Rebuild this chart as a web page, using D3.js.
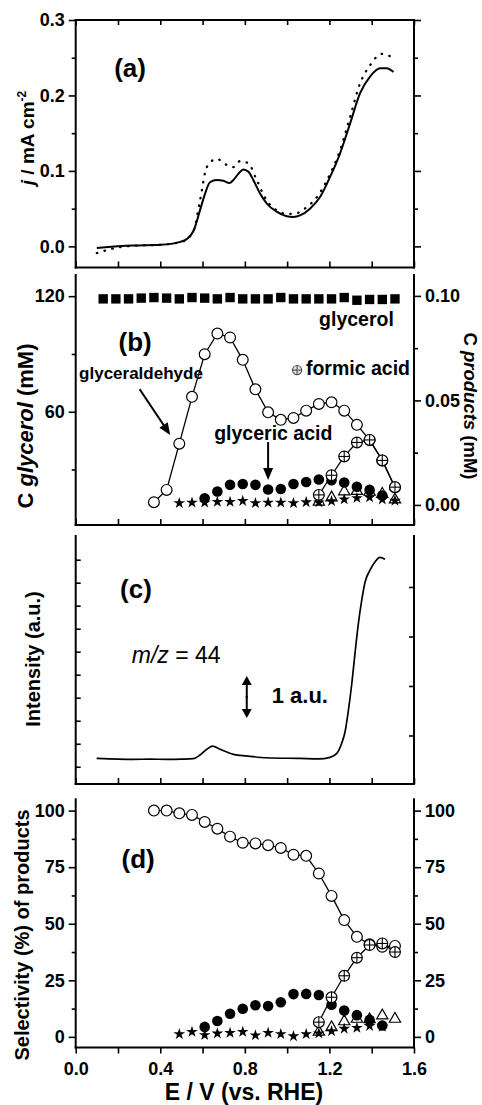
<!DOCTYPE html>
<html><head><meta charset="utf-8">
<script src="https://cdn.jsdelivr.net/npm/d3@7"></script>
<style>body{margin:0;background:#fff}svg{display:block}</style>
</head><body>
<svg id="chart" width="482" height="1105"></svg>
<script>
// ---------- DATA ----------
// (a) current density, mA cm-2
const jSolidE = [0.10,0.27,0.40,0.495,0.527,0.558,0.588,0.612,0.635,0.667,0.698,0.727,0.746,0.769,0.793,0.817,0.840,0.872,0.903,0.950,0.998,1.029,1.061,1.108,1.155,1.203,1.250,1.298,1.345,1.392,1.440,1.471,1.503];
const jSolid  = [-0.002,0.001,0.002,0.006,0.010,0.021,0.048,0.070,0.085,0.088,0.087,0.084,0.088,0.096,0.102,0.099,0.088,0.070,0.057,0.046,0.040,0.039,0.041,0.050,0.065,0.092,0.123,0.163,0.203,0.225,0.236,0.236,0.231];
const jDotE = [0.10,0.19,0.29,0.40,0.51,0.558,0.588,0.620,0.667,0.714,0.746,0.777,0.817,0.856,0.903,0.950,0.998,1.045,1.092,1.140,1.203,1.250,1.298,1.345,1.392,1.447,1.495];
const jDot  = [-0.009,-0.002,0.001,0.002,0.007,0.021,0.061,0.105,0.116,0.108,0.105,0.113,0.110,0.088,0.061,0.048,0.043,0.044,0.052,0.065,0.096,0.127,0.172,0.216,0.240,0.255,0.251];

// (b) concentrations
const glycerolE = [0.13,0.19,0.25,0.31,0.37,0.43,0.49,0.55,0.61,0.67,0.73,0.79,0.85,0.91,0.97,1.03,1.09,1.15,1.21,1.27,1.33,1.39,1.45,1.51];
const glycerolC = [118.6,118.6,118.6,119.0,119.3,119.0,118.6,119.3,119.0,118.6,119.3,118.6,118.6,118.6,119.3,118.6,118.6,118.6,118.6,119.3,117.9,118.3,118.3,118.6];
const aldE = [0.37,0.43,0.49,0.55,0.61,0.67,0.73,0.79,0.85,0.91,0.97,1.03,1.09,1.15,1.21,1.27,1.33,1.39,1.45,1.51];
const aldC = [0.0013,0.0072,0.0293,0.0517,0.0721,0.0820,0.0801,0.0694,0.0553,0.0443,0.0407,0.0416,0.0451,0.0483,0.0491,0.0451,0.0383,0.0311,0.0213,0.0085];
const gaE = [0.61,0.67,0.73,0.79,0.85,0.91,0.97,1.03,1.09,1.15,1.21,1.27,1.33,1.39,1.45];
const gaC = [0.0032,0.0064,0.0096,0.0100,0.0096,0.0074,0.0076,0.0100,0.0110,0.0122,0.0118,0.0107,0.0087,0.0072,0.0045];
const starE = [0.49,0.55,0.61,0.67,0.73,0.79,0.85,0.91,0.97,1.03,1.09,1.15,1.21,1.27,1.33,1.39,1.45,1.51];
const starC = [0.0009,0.0011,0.0011,0.0015,0.0015,0.0019,0.0009,0.0011,0.0011,0.0009,0.0013,0.0012,0.0018,0.0027,0.0033,0.0036,0.0026,0.0020];
const triE = [1.15,1.21,1.27,1.33,1.39,1.45,1.51];
const triC = [0.0015,0.0035,0.0064,0.0066,0.0062,0.0052,0.0025];
const formE = [1.15,1.21,1.27,1.33,1.39,1.45,1.51];
const formC = [0.0048,0.0142,0.0232,0.0299,0.0311,0.0213,0.0085];

// (c) m/z = 44 intensity
const msE = [0.099,0.20,0.273,0.35,0.430,0.50,0.556,0.588,0.620,0.648,0.683,0.746,0.809,0.903,1.061,1.15,1.203,1.235,1.258,1.274,1.290,1.306,1.321,1.337,1.353,1.369,1.392,1.416,1.439,1.463];
const msI = [0.36,0.33,0.32,0.33,0.32,0.33,0.35,0.51,0.76,0.90,0.76,0.54,0.47,0.39,0.36,0.34,0.41,0.58,1.02,1.52,2.47,3.63,4.93,6.23,7.25,8.04,8.55,8.91,9.10,9.02];

// (d) selectivity, %
const selAld  = [100,100,98.8,98.1,95,92,88.5,85.8,85.5,84.7,83.5,80.5,80,72.2,62.3,51.6,44.2,40.9,39.8,40.2];
const selGa   = [4.4,7.0,10.2,12.4,14.0,13.6,15.3,18.9,19.0,18.5,14.2,11.6,9.6,7.5,5.0];
const selStarE = [0.49,0.55,0.61,0.67,0.73,0.79,0.85,0.91,0.97,1.03,1.09,1.15,1.21,1.27,1.33,1.39,1.45];
const selStar = [1.2,2.2,0.8,1.5,1.8,2.2,0.7,1.8,1.2,0.3,1.2,1.5,2.5,3.6,4.0,4.8,4.5];
const selTri  = [2.2,4.2,6.8,7.9,7.7,9.4,7.9];
const selForm = [6.5,17.5,27,35,40.6,41.3,37.5];

// ticks
const xTicks = [0,0.2,0.4,0.6,0.8,1.0,1.2,1.4,1.6];
const xTickLabels = [0,0.4,0.8,1.2,1.6];
const aMajor = [0,0.1,0.2,0.3], aMinor = [0.05,0.15,0.25];
const bLeftMajor = [60,120], bLeftMinor = [30,90];
const bRightMajor = [0,0.05,0.10], bRightMinor = [0.025,0.075];
const cLeftTicks = [0,1,2,3,4,5,6,7,8,9], cRightTicks = [0,1,2,3];
const dMajor = [0,25,50,75,100], dMinor = [12.5,37.5,62.5,87.5];

// ---------- LAYOUT ----------
const F = '"Liberation Sans", Arial, Helvetica, sans-serif';
const svg = d3.select('#chart');
const x = d3.scaleLinear().domain([0,1.6]).range([75.7,414]);
const P = {a:[20,267.5], b:[275,525], c:[536,784], d:[799.3,1047.5]};
const yA  = d3.scaleLinear().domain([-0.028,0.3]).range([P.a[1],P.a[0]]);
const yBL = d3.scaleLinear().domain([1.2,131]).range([P.b[1],P.b[0]]);
const yBR = d3.scaleLinear().domain([-0.0096,0.110]).range([P.b[1],P.b[0]]);
const yC  = d3.scaleLinear().domain([-0.75,10.03]).range([P.c[1],P.c[0]]);
const yCR = d3.scaleLinear().domain([-0.98,4.03]).range([P.c[1],P.c[0]]);
const yD  = d3.scaleLinear().domain([-4.7,105]).range([P.d[1],P.d[0]]);
const X0 = x.range()[0], X1 = x.range()[1];

function ax(orient, scale, pos, vals, size, fmt, pad, fs){
  const gen = {left:d3.axisLeft,right:d3.axisRight,top:d3.axisTop,bottom:d3.axisBottom}[orient](scale)
    .tickValues(vals).tickSizeInner(size).tickSizeOuter(0).tickPadding(pad||4)
    .tickFormat(fmt || (()=>''));
  const tr = (orient==='left'||orient==='right') ? `translate(${pos},0)` : `translate(0,${pos})`;
  const g = svg.append('g').attr('transform',tr).call(gen);
  g.select('.domain').remove();
  g.selectAll('line').attr('stroke','#000').attr('stroke-width',1.6);
  g.selectAll('text').attr('font-family',F).attr('font-size',fs||18).attr('font-weight','bold').attr('fill','#000');
  return g;
}
function seg(x1,y1,x2,y2,w){
  svg.append('line').attr('x1',x1).attr('y1',y1).attr('x2',x2).attr('y2',y2)
    .attr('stroke','#000').attr('stroke-width',w||2).attr('stroke-linecap','square');
}
function frame(p, top){
  seg(X0,p[0],X0,p[1]); seg(X1,p[0],X1,p[1]); seg(X0,p[1],X1,p[1]);
  if(top) seg(X0,p[0],X1,p[0]);
}
function txt(s, px, py, fs, opts){
  opts = opts||{};
  const t = svg.append('text').attr('x',px).attr('y',py).attr('font-family',F)
    .attr('font-size',fs).attr('font-weight',opts.weight||'bold').attr('fill','#000')
    .attr('text-anchor',opts.anchor||'start');
  if(opts.style) t.attr('font-style',opts.style);
  t.text(s);
  return t;
}
function arrow(x1,y1,x2,y2,head){
  const a = Math.atan2(y2-y1,x2-x1), L=head||10, W=5;
  const bx = x2 - L*Math.cos(a), by = y2 - L*Math.sin(a);
  seg(x1,y1,bx,by,2);
  svg.append('path').attr('d',`M${x2},${y2}L${bx - W*Math.sin(a)},${by + W*Math.cos(a)}L${bx + W*Math.sin(a)},${by - W*Math.cos(a)}Z`).attr('fill','#000');
}
const zip = (a,b) => a.map((v,i)=>[v,b[i]]);

// ---------- PANEL A ----------
frame(P.a, true);
ax('left', yA, X0, aMajor, 7, d3.format('.1f'), 4);
ax('left', yA, X0, aMinor, 4);
ax('right', yA, X1, aMajor, 7);
ax('right', yA, X1, aMinor, 4);
ax('top', x, P.a[0], xTicks, -5);
ax('bottom', x, P.a[1], xTicks, -6);
const lineA = d3.line().x(d=>x(d[0])).y(d=>yA(d[1])).curve(d3.curveMonotoneX);
svg.append('path').attr('d',lineA(zip(jDotE,jDot))).attr('fill','none').attr('stroke','#000')
  .attr('stroke-width',2.3).attr('stroke-linecap','round').attr('stroke-dasharray','0.5,7.5');
svg.append('path').attr('d',lineA(zip(jSolidE,jSolid))).attr('fill','none').attr('stroke','#000').attr('stroke-width',2);
txt('(a)', x(0.257), yA(0.2238), 26, {anchor:'middle'});
{
  const t = svg.append('text').attr('transform',`translate(34,138) rotate(-90)`).attr('text-anchor','middle')
    .attr('font-family',F).attr('font-size',19).attr('font-weight','bold').attr('fill','#000');
  t.append('tspan').attr('font-style','italic').text('j');
  t.append('tspan').text(' / mA cm');
  t.append('tspan').attr('font-size',12).attr('dy',-8).text('-2');
}

// ---------- PANEL B ----------
frame(P.b, false);
ax('left', yBL, X0, bLeftMajor, 7, d3.format('d'), 4);
ax('left', yBL, X0, bLeftMinor, 4);
ax('right', yBR, X1, bRightMajor, 7, d3.format('.2f'), 4);
ax('right', yBR, X1, bRightMinor, 4);
ax('bottom', x, P.b[1], xTicks, -6);

const gB = svg.append('g');
// glycerol squares
gB.selectAll('.sq').data(zip(glycerolE,glycerolC)).join('path')
  .attr('d', d3.symbol(d3.symbolSquare, 88)()).attr('transform',d=>`translate(${x(d[0])},${yBL(d[1])})`).attr('fill','#000');
// glyceraldehyde
const lineB = d3.line().x(d=>x(d[0])).y(d=>yBR(d[1]));
gB.append('path').attr('d',lineB(zip(aldE,aldC))).attr('fill','none').attr('stroke','#000').attr('stroke-width',1.3);
gB.selectAll('.ald').data(zip(aldE,aldC)).join('circle').attr('cx',d=>x(d[0])).attr('cy',d=>yBR(d[1]))
  .attr('r',5.4).attr('fill','#fff').attr('stroke','#000').attr('stroke-width',1.2);
// triangles
gB.selectAll('.tri').data(zip(triE,triC)).join('path').attr('d', d3.symbol(d3.symbolTriangle, 55)())
  .attr('transform',d=>`translate(${x(d[0])},${yBR(d[1])})`).attr('fill','#fff').attr('stroke','#000').attr('stroke-width',1.2);
// glyceric acid filled circles
gB.selectAll('.ga').data(zip(gaE,gaC)).join('circle').attr('cx',d=>x(d[0])).attr('cy',d=>yBR(d[1])).attr('r',5.3).attr('fill','#000');
// stars
gB.selectAll('.st').data(zip(starE,starC)).join('path').attr('d', d3.symbol(d3.symbolStar, 42)())
  .attr('transform',d=>`translate(${x(d[0])},${yBR(d[1])})`).attr('fill','#000');
// formic acid crossed circles
function crossed(g, data, sx, sy, r, stroke, fill){
  const gg = g.selectAll(null).data(data).join('g').attr('transform',d=>`translate(${sx(d[0])},${sy(d[1])})`);
  gg.append('circle').attr('r',r).attr('fill',fill).attr('stroke',stroke).attr('stroke-width',1.2);
  gg.append('line').attr('x1',-r).attr('x2',r).attr('stroke',stroke).attr('stroke-width',1.1);
  gg.append('line').attr('y1',-r).attr('y2',r).attr('stroke',stroke).attr('stroke-width',1.1);
}
gB.append('path').attr('d',lineB(zip(formE,formC))).attr('fill','none').attr('stroke','#000').attr('stroke-width',1.3);
crossed(gB, zip(formE,formC), x, yBR, 5.4, '#000', '#fff');
// legend marker for formic acid
crossed(gB, [[1.047,0.0645]], x, yBR, 4.6, '#555', '#ddd');

txt('(b)', x(0.281), yBR(0.0736), 26, {anchor:'middle'});
txt('glycerol', x(1.151), yBR(0.0857), 19.5);
txt('formic acid', x(1.089), yBR(0.0622), 19.5);
txt('glyceraldehyde', x(0.016), yBR(0.0602), 17);
txt('glyceric acid', x(0.655), yBR(0.0311), 19.5);
arrow(x(0.305), yBR(0.0550), x(0.447), yBR(0.0335), 12);
arrow(x(0.910), yBR(0.0296), x(0.910), yBR(0.0119), 12);
{
  const t = svg.append('text').attr('transform',`translate(33,426) rotate(-90)`).attr('text-anchor','middle')
    .attr('font-family',F).attr('font-size',22).attr('font-weight','bold').attr('fill','#000');
  t.append('tspan').text('C ');
  t.append('tspan').attr('font-style','italic').text('glycerol');
  t.append('tspan').text(' (mM)');
  const t2 = svg.append('text').attr('transform',`translate(464,406) rotate(90)`).attr('text-anchor','middle')
    .attr('font-family',F).attr('font-size',18.5).attr('font-weight','bold').attr('fill','#000');
  t2.append('tspan').text('C ');
  t2.append('tspan').attr('font-style','italic').text('products');
  t2.append('tspan').text(' (mM)');
}

// ---------- PANEL C ----------
frame(P.c, false);
ax('left', yC, X0, cLeftTicks, -5);
ax('right', yCR, X1, cRightTicks, -5);
ax('bottom', x, P.c[1], xTicks, -6);
const lineC = d3.line().x(d=>x(d[0])).y(d=>yC(d[1])).curve(d3.curveMonotoneX);
svg.append('path').attr('d',lineC(zip(msE,msI))).attr('fill','none').attr('stroke','#000').attr('stroke-width',1.7);
txt('(c)', x(0.285), yC(7.34), 26, {anchor:'middle'});
{
  const t = svg.append('text').attr('x',x(0.265)).attr('y',yC(4.51)).attr('font-family',F).attr('font-size',23).attr('fill','#000');
  t.append('tspan').attr('font-style','italic').text('m/z');
  t.append('tspan').text(' = 44');
}
arrow(x(0.809), yC(3.03), x(0.809), yC(3.946), 9);
arrow(x(0.809), yC(3.03), x(0.809), yC(2.12), 9);
txt('1 a.u.', x(0.927), yC(2.77), 22);
svg.append('text').attr('transform',`translate(39.5,659) rotate(-90)`).attr('text-anchor','middle')
  .attr('font-family',F).attr('font-size',20).attr('font-weight','bold').attr('fill','#000').text('Intensity (a.u.)');

// ---------- PANEL D ----------
frame(P.d, false);
ax('left', yD, X0, dMajor, 7, d3.format('d'), 4);
ax('left', yD, X0, dMinor, 4);
ax('right', yD, X1, dMajor, 7, d3.format('d'), 4);
ax('right', yD, X1, dMinor, 4);
ax('bottom', x, P.d[1], xTickLabels, 6, d3.format('.1f'), 9);
ax('bottom', x, P.d[1], xTicks.filter(v=>!xTickLabels.includes(v)), 6);

const gD = svg.append('g');
const lineD = d3.line().x(d=>x(d[0])).y(d=>yD(d[1]));
gD.append('path').attr('d',lineD(zip(aldE,selAld))).attr('fill','none').attr('stroke','#000').attr('stroke-width',1.3);
gD.selectAll('.ald').data(zip(aldE,selAld)).join('circle').attr('cx',d=>x(d[0])).attr('cy',d=>yD(d[1]))
  .attr('r',5.4).attr('fill','#fff').attr('stroke','#000').attr('stroke-width',1.2);
gD.selectAll('.tri').data(zip(triE,selTri)).join('path').attr('d', d3.symbol(d3.symbolTriangle, 55)())
  .attr('transform',d=>`translate(${x(d[0])},${yD(d[1])})`).attr('fill','#fff').attr('stroke','#000').attr('stroke-width',1.2);
gD.selectAll('.ga').data(zip(gaE,selGa)).join('circle').attr('cx',d=>x(d[0])).attr('cy',d=>yD(d[1])).attr('r',5.3).attr('fill','#000');
gD.selectAll('.st').data(zip(selStarE,selStar)).join('path').attr('d', d3.symbol(d3.symbolStar, 42)())
  .attr('transform',d=>`translate(${x(d[0])},${yD(d[1])})`).attr('fill','#000');
gD.append('path').attr('d',lineD(zip(formE,selForm))).attr('fill','none').attr('stroke','#000').attr('stroke-width',1.3);
crossed(gD, zip(formE,selForm), x, yD, 5.4, '#000', '#fff');

txt('(d)', x(0.295), yD(74.6), 26, {anchor:'middle'});
svg.append('text').attr('transform',`translate(28.5,935) rotate(-90)`).attr('text-anchor','middle')
  .attr('font-family',F).attr('font-size',20).attr('font-weight','bold').attr('fill','#000').text('Selectivity (%) of products');
txt('E / V (vs. RHE)', x(0.796), P.d[1] + 52, 23, {anchor:'middle'});
</script>
</body></html>
